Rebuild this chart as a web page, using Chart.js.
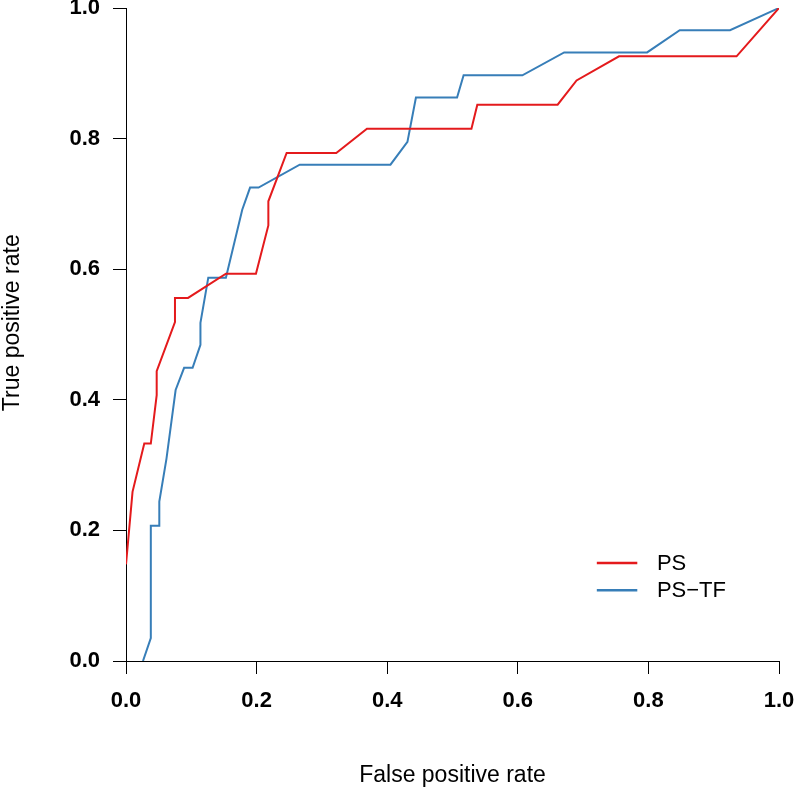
<!DOCTYPE html>
<html>
<head>
<meta charset="utf-8">
<script src="https://cdn.jsdelivr.net/npm/chart.js@4.4.1/dist/chart.umd.min.js"></script>
<style>
  html, body { margin: 0; padding: 0; background: #fff; }
  #wrap { width: 794px; height: 792px; }
</style>
</head>
<body>
<div id="wrap"><canvas id="chart" width="794" height="792"></canvas></div>
<script>
// ROC curves
const psFpr = [0.000, 0.010, 0.028, 0.038, 0.047, 0.047, 0.075, 0.075, 0.095, 0.153, 0.199, 0.218, 0.218, 0.246, 0.322, 0.369, 0.529, 0.538, 0.661, 0.690, 0.755, 0.935, 1.000];
const psTpr = [0.148, 0.259, 0.333, 0.333, 0.407, 0.444, 0.519, 0.556, 0.556, 0.593, 0.593, 0.667, 0.704, 0.778, 0.778, 0.815, 0.815, 0.852, 0.852, 0.889, 0.926, 0.926, 1.000];

const tfFpr = [0.026, 0.038, 0.038, 0.051, 0.051, 0.062, 0.076, 0.089, 0.102, 0.114, 0.114, 0.126, 0.153, 0.178, 0.190, 0.203, 0.266, 0.405, 0.431, 0.444, 0.507, 0.517, 0.607, 0.671, 0.798, 0.848, 0.925, 1.000];
const tfTpr = [0.000, 0.035, 0.207, 0.207, 0.244, 0.310, 0.415, 0.449, 0.449, 0.484, 0.518, 0.587, 0.587, 0.691, 0.725, 0.725, 0.760, 0.760, 0.795, 0.863, 0.863, 0.897, 0.897, 0.932, 0.932, 0.966, 0.966, 1.000];

const labels = ['PS', 'PS\u2212TF'];
const colors = ['#E41A1C', '#377EB8'];
const ticks = [0, 0.2, 0.4, 0.6, 0.8, 1.0];
const yTitle = 'True positive rate';

function pairs(xs, ys) {
  return xs.map((x, i) => ({x: x, y: ys[i]}));
}

// legend inside the plot (like R's legend()) and the y title, which R centres a bit higher
const rLegend = {
  id: 'rLegend',
  afterDraw(chart) {
    const ctx = chart.ctx;
    const xs = chart.scales.x, ys = chart.scales.y;
    const x0 = xs.getPixelForValue(0.721), x1 = xs.getPixelForValue(0.783);
    const tx = xs.getPixelForValue(0.813);
    ctx.save();
    ctx.font = '22px "Liberation Sans", Arial, sans-serif';
    ctx.textBaseline = 'middle';
    ctx.fillStyle = '#000';
    chart.data.datasets.forEach((ds, i) => {
      const y = ys.getPixelForValue(0.15 - i * 0.0415);
      ctx.strokeStyle = ds.borderColor;
      ctx.lineWidth = 2.5;
      ctx.beginPath();
      ctx.moveTo(x0, y);
      ctx.lineTo(x1, y);
      ctx.stroke();
      ctx.fillText(ds.label, tx, y + 1);
    });

    ctx.font = '23px "Liberation Sans", Arial, sans-serif';
    ctx.textAlign = 'center';
    ctx.translate(13, ys.getPixelForValue(0.518));
    ctx.rotate(-Math.PI / 2);
    ctx.fillText(yTitle, 0, 0);
    ctx.restore();
  }
};

const axisFont = {family: '"Liberation Sans", Arial, sans-serif', size: 22, weight: 'bold'};
const titleFont = {family: '"Liberation Sans", Arial, sans-serif', size: 23};

new Chart(document.getElementById('chart'), {
  type: 'scatter',
  data: {
    datasets: [
      {label: labels[0], data: pairs(psFpr, psTpr), borderColor: colors[0], backgroundColor: colors[0],
       showLine: true, borderWidth: 2, pointRadius: 0, tension: 0},
      {label: labels[1], data: pairs(tfFpr, tfTpr), borderColor: colors[1], backgroundColor: colors[1],
       showLine: true, borderWidth: 2, pointRadius: 0, tension: 0}
    ]
  },
  options: {
    responsive: false,
    animation: false,
    layout: {padding: {top: 8, right: 15, left: 0, bottom: 0}},
    plugins: {legend: {display: false}, tooltip: {enabled: false}},
    scales: {
      x: {
        type: 'linear', min: 0, max: 1,
        afterBuildTicks: (s) => { s.ticks = ticks.map(v => ({value: v})); },
        afterFit: (s) => { s.height = 131; s.paddingLeft = 0; s.paddingRight = 0; },
        grid: {display: true, drawOnChartArea: false, drawTicks: true, tickLength: 13, tickColor: '#000', tickWidth: 1},
        border: {display: true, color: '#000', width: 1},
        ticks: {color: '#000', font: axisFont, padding: 14, maxRotation: 0, autoSkip: false,
                callback: (v) => v.toFixed(1)},
        title: {display: true, text: 'False positive rate', color: '#000', font: titleFont, padding: {top: 0, bottom: 3}}
      },
      y: {
        type: 'linear', min: 0, max: 1,
        afterBuildTicks: (s) => { s.ticks = ticks.map(v => ({value: v})); },
        afterFit: (s) => { s.width = 126; s.paddingTop = 0; s.paddingBottom = 0; },
        grid: {display: true, drawOnChartArea: false, drawTicks: true, tickLength: 13, tickColor: '#000', tickWidth: 1},
        border: {display: true, color: '#000', width: 1},
        ticks: {color: '#000', font: axisFont, padding: 13, autoSkip: false,
                callback: (v) => v.toFixed(1)}
      }
    }
  },
  plugins: [rLegend]
});
</script>
</body>
</html>
